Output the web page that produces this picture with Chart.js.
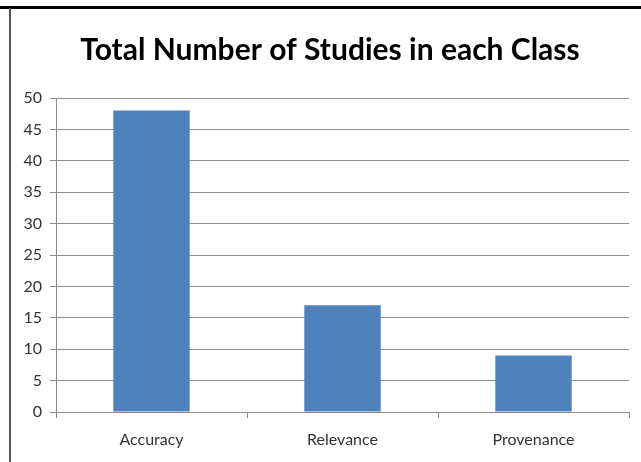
<!DOCTYPE html>
<html>
<head>
<meta charset="utf-8">
<script src="https://cdn.jsdelivr.net/npm/chart.js@4"></script>
<style>
  html, body { margin: 0; padding: 0; background: #fff; }
  #wrap { position: relative; width: 641px; height: 462px; overflow: hidden; }
  #topLine { position: absolute; left: 0; top: 6px; width: 641px; height: 3px; background: #000; }
  #leftLine { position: absolute; left: 9px; top: 8px; width: 2px; height: 454px; background: #555; }
  canvas { position: absolute; left: 0; top: 0; }
</style>
</head>
<body>
<div id="wrap">
  <canvas id="mainChart" width="641" height="462"></canvas>
  <div id="topLine"></div>
  <div id="leftLine"></div>
</div>
<script>
const categories = [`Accuracy`, `Relevance`, `Provenance`]
const studies = [48, 17, 9]
const yTicks = [0, 5, 10, 15, 20, 25, 30, 35, 40, 45, 50]
const titleText = `Total Number of Studies in each Class`

const chart = document.getElementById(`mainChart`)

new Chart(chart, {
  type: "bar",
  data: {
    labels: categories,
    datasets: [
      {
        label: `Studies`,
        data: studies,
        backgroundColor: `#4f81bd`,
        borderWidth: 0,
        barPercentage: 0.4,
        categoryPercentage: 1,
      },
    ],
  },
  options: {
    responsive: false,
    animation: false,
    layout: { padding: { left: 0, right: 12, top: 98, bottom: 0 } },
    plugins: {
      legend: { display: false },
      tooltip: { enabled: false },
    },
    scales: {
      x: {
        offset: true,
        grid: { drawOnChartArea: false, drawTicks: true, tickLength: 6, color: `#8c8c8c`, offset: true },
        border: { color: `#8c8c8c` },
        ticks: { color: `#333`, font: { family: "Lato", size: 16 }, padding: 12 },
        afterFit: function (scale) { scale.height = 50 },
      },
      y: {
        min: 0,
        max: 50,
        afterBuildTicks: function (scale) { scale.ticks = yTicks.map(v => ({ value: v })) },
        grid: { color: `#8c8c8c`, tickLength: 6 },
        border: { color: `#8c8c8c` },
        ticks: { color: `#333`, font: { family: "Lato", size: 16 }, padding: 8 },
        afterFit: function (scale) { scale.width = 56 },
      },
    },
  },
  plugins: [
    {
      // title sits a bit right of the canvas centre in the original
      id: "titleText",
      afterDraw: function (chart) {
        const ctx = chart.ctx
        ctx.save()
        ctx.font = "bold 30px Lato"
        ctx.textAlign = "center"
        ctx.textBaseline = "middle"
        ctx.fillStyle = "#000"
        ctx.fillText(titleText, 330, 50)
        ctx.restore()
      },
    },
  ],
})
</script>
</body>
</html>
